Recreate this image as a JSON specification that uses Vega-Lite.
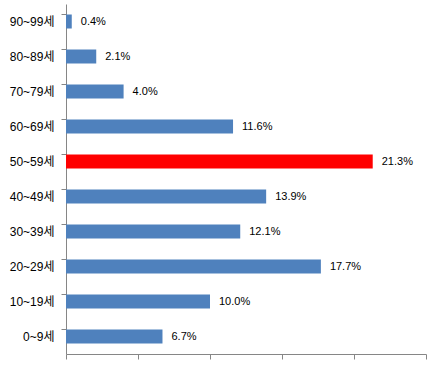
{
  "$schema": "https://vega.github.io/schema/vega-lite/v6.json",
  "width": 360,
  "height": 350,
  "autosize": "none",
  "padding": {"left": 66, "top": 4, "right": 22, "bottom": 12},
  "background": "white",
  "config": {"view": {"stroke": null}, "font": "Liberation Sans, Noto Sans CJK KR"},
  "data": {"values": [
    {"age": "90~99세", "pct": 0.4, "label": "0.4%", "hi": false},
    {"age": "80~89세", "pct": 2.1, "label": "2.1%", "hi": false},
    {"age": "70~79세", "pct": 4.0, "label": "4.0%", "hi": false},
    {"age": "60~69세", "pct": 11.6, "label": "11.6%", "hi": false},
    {"age": "50~59세", "pct": 21.3, "label": "21.3%", "hi": true},
    {"age": "40~49세", "pct": 13.9, "label": "13.9%", "hi": false},
    {"age": "30~39세", "pct": 12.1, "label": "12.1%", "hi": false},
    {"age": "20~29세", "pct": 17.7, "label": "17.7%", "hi": false},
    {"age": "10~19세", "pct": 10.0, "label": "10.0%", "hi": false},
    {"age": "0~9세", "pct": 6.7, "label": "6.7%", "hi": false}
  ]},
  "encoding": {
    "y": {"field": "age", "type": "nominal", "sort": null,
      "scale": {"paddingInner": 0.6, "paddingOuter": 0.3},
      "axis": {"title": null, "bandPosition": 0, "domainColor": "#868686", "tickColor": "#868686",
        "tickSize": 5, "labelPadding": 7, "labelFontSize": 12, "labelColor": "#000000",
        "labelFont": "Liberation Sans, Noto Sans CJK KR", "grid": false}},
    "x": {"field": "pct", "type": "quantitative",
      "scale": {"domain": [0, 25], "nice": false},
      "axis": {"title": null, "labels": false, "grid": false, "values": [0, 5, 10, 15, 20, 25],
        "domainColor": "#868686", "tickColor": "#868686", "tickSize": 5}}
  },
  "layer": [
    {"mark": {"type": "bar"},
     "encoding": {"color": {"field": "hi", "type": "nominal",
       "scale": {"domain": [false, true], "range": ["#4F81BD", "#FF0000"]}, "legend": null}}},
    {"mark": {"type": "text", "align": "left", "baseline": "middle", "dx": 9, "fontSize": 11, "color": "#000000"},
     "encoding": {"text": {"field": "label", "type": "nominal"}}}
  ]
}
